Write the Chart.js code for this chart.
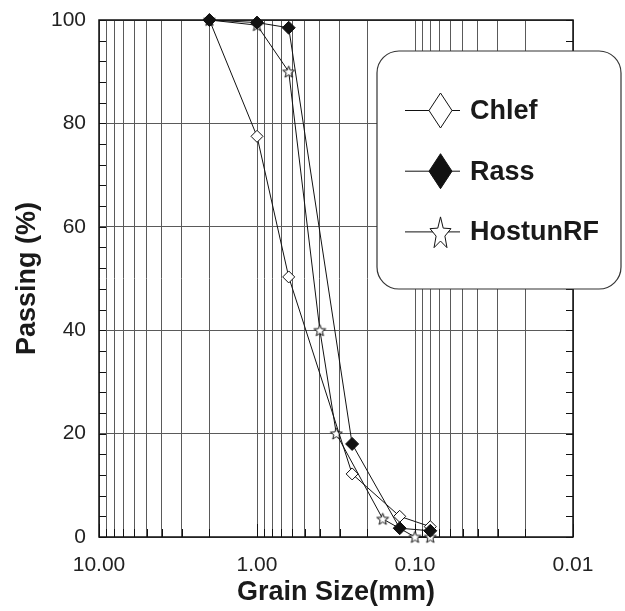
<!DOCTYPE html>
<html>
<head>
<meta charset="utf-8">
<script src="https://cdn.jsdelivr.net/npm/chart.js@4.4.0/dist/chart.umd.min.js"></script>
<style>
  html, body { margin: 0; padding: 0; background: #fff; }
</style>
</head>
<body>
<canvas id="grading" width="625" height="611"></canvas>
<script>
// grain size (mm) / passing (%)
const sizesChlef = [2, 1, 0.63, 0.25, 0.125, 0.08];
const passingChlef = [100, 77.5, 50.3, 12.2, 4, 2];
const sizesRass = [2, 1, 0.63, 0.25, 0.125, 0.08];
const passingRass = [100, 99.5, 98.5, 18, 1.7, 1.2];
const sizesHostun = [2, 1, 0.63, 0.4, 0.315, 0.16, 0.1, 0.08];
const passingHostun = [100, 99, 90, 40, 20, 3.5, 0, 0];

const legendLabels = ['Chlef', 'Rass', 'HostunRF'];
const xMajor = [10, 1, 0.1, 0.01];
const xTickLabels = ['10.00', '1.00', '0.10', '0.01'];
const yTickLabels = [0, 20, 40, 60, 80, 100];

// log grid: 1..9 in every decade
const xGrid = [];
for (let e = -2; e < 1; e++) {
  for (let k = 1; k < 10; k++) xGrid.push(+(k * Math.pow(10, e)).toPrecision(3));
}
xGrid.push(10);
const yGrid = [];
for (let v = 0; v <= 100; v += 4) yGrid.push(v);

const FONT = "'Liberation Sans', Arial, sans-serif";
Chart.defaults.font.family = FONT;
Chart.defaults.color = '#222';

function starPath(ctx, cx, cy, rx, ry) {
  ctx.beginPath();
  for (let i = 0; i < 10; i++) {
    const r = i % 2 ? 0.42 : 1;
    const a = -Math.PI / 2 + i * Math.PI / 5;
    ctx.lineTo(cx + Math.cos(a) * rx * r, cy + Math.sin(a) * ry * r);
  }
  ctx.closePath();
}

function diamondPath(ctx, cx, cy, rx, ry) {
  ctx.beginPath();
  ctx.moveTo(cx, cy - ry);
  ctx.lineTo(cx + rx, cy);
  ctx.lineTo(cx, cy + ry);
  ctx.lineTo(cx - rx, cy);
  ctx.closePath();
}

// open star marker for HostunRF
const starImg = document.createElement('canvas');
starImg.width = 15;
starImg.height = 15;
(function () {
  const c = starImg.getContext('2d');
  starPath(c, 7.5, 8, 6.2, 6.2);
  c.fillStyle = '#fff';
  c.fill();
  c.strokeStyle = '#111';
  c.lineWidth = 1;
  c.stroke();
})();

const toXY = (xs, ys) => xs.map((x, i) => ({ x: x, y: ys[i] }));

const frameAndTicks = {
  id: 'frameAndTicks',
  beforeDatasetsDraw(chart) {
    const { ctx, chartArea: a, scales } = chart;
    ctx.save();
    ctx.strokeStyle = '#111';
    ctx.lineWidth = 1;
    ctx.beginPath();
    yGrid.forEach(v => {
      const y = Math.round(scales.y.getPixelForValue(v)) + 0.5;
      ctx.moveTo(a.left, y);
      ctx.lineTo(a.left + 7, y);
      ctx.moveTo(a.right, y);
      ctx.lineTo(a.right - 7, y);
    });
    xGrid.forEach(v => {
      const x = Math.round(scales.x.getPixelForValue(v)) + 0.5;
      const len = xMajor.includes(v) ? 13 : 8;
      ctx.moveTo(x, a.bottom);
      ctx.lineTo(x, a.bottom - len);
    });
    ctx.stroke();
    ctx.lineWidth = 1.5;
    ctx.strokeRect(a.left, a.top, a.right - a.left, a.bottom - a.top);
    ctx.restore();
  }
};

const boxLegend = {
  id: 'boxLegend',
  afterDraw(chart) {
    const ctx = chart.ctx;
    const bx = 377, by = 51, bw = 244, bh = 238, r = 22;
    ctx.save();
    ctx.beginPath();
    ctx.moveTo(bx + r, by);
    ctx.arcTo(bx + bw, by, bx + bw, by + bh, r);
    ctx.arcTo(bx + bw, by + bh, bx, by + bh, r);
    ctx.arcTo(bx, by + bh, bx, by, r);
    ctx.arcTo(bx, by, bx + bw, by, r);
    ctx.closePath();
    ctx.fillStyle = '#fff';
    ctx.fill();
    ctx.strokeStyle = '#333';
    ctx.lineWidth = 1.2;
    ctx.stroke();

    legendLabels.forEach((label, i) => {
      const y = 110.5 + i * 60.7;
      ctx.strokeStyle = '#111';
      ctx.lineWidth = 1;
      ctx.beginPath();
      ctx.moveTo(405, y);
      ctx.lineTo(460, y);
      ctx.stroke();
      if (i === 2) {
        starPath(ctx, 440.5, y + 2, 11, 17);
      } else {
        diamondPath(ctx, 440.5, y, 11.5, 17.5);
      }
      ctx.fillStyle = i === 1 ? '#111' : '#fff';
      ctx.fill();
      ctx.stroke();

      ctx.fillStyle = '#1a1a1a';
      ctx.font = 'bold 27px ' + FONT;
      ctx.textBaseline = 'middle';
      ctx.textAlign = 'left';
      ctx.fillText(label, 470, y + 1);
    });
    ctx.restore();
  }
};

new Chart(document.getElementById('grading'), {
  type: 'line',
  data: {
    datasets: [
      {
        label: legendLabels[0],
        data: toXY(sizesChlef, passingChlef),
        order: 1,
        pointStyle: 'rectRot',
        pointRadius: 6,
        backgroundColor: '#fff',
        pointBackgroundColor: '#fff'
      },
      {
        label: legendLabels[1],
        data: toXY(sizesRass, passingRass),
        order: 0,
        pointStyle: 'rectRot',
        pointRadius: 6.5,
        backgroundColor: '#111',
        pointBackgroundColor: '#111'
      },
      {
        label: legendLabels[2],
        data: toXY(sizesHostun, passingHostun),
        order: 2,
        pointStyle: starImg,
        pointRadius: 7,
        backgroundColor: '#fff'
      }
    ].map(d => Object.assign({
      borderColor: '#111',
      pointBorderColor: '#111',
      borderWidth: 1,
      pointBorderWidth: 1,
      tension: 0,
      fill: false,
      clip: false
    }, d))
  },
  options: {
    responsive: false,
    animation: false,
    layout: { padding: { top: 20, right: 52, left: 0, bottom: 0 } },
    plugins: {
      legend: { display: false },
      tooltip: { enabled: false }
    },
    scales: {
      x: {
        type: 'logarithmic',
        reverse: true,
        min: 0.01,
        max: 10,
        afterBuildTicks: axis => { axis.ticks = xGrid.map(v => ({ value: v })); },
        afterFit: axis => { axis.height = 74; },
        border: { display: false },
        grid: { color: '#5a5a5a', lineWidth: 1, drawTicks: false },
        ticks: {
          autoSkip: false,
          maxRotation: 0,
          minRotation: 0,
          padding: 16,
          font: { size: 21 },
          callback: value => {
            const i = xMajor.findIndex(m => Math.abs(m - value) / m < 1e-6);
            return i < 0 ? '' : xTickLabels[i];
          }
        },
        title: {
          display: true,
          text: 'Grain Size(mm)',
          color: '#1a1a1a',
          font: { size: 27, weight: 'bold' },
          padding: { top: 0, bottom: 2 }
        }
      },
      y: {
        type: 'linear',
        min: 0,
        max: 100,
        afterBuildTicks: axis => { axis.ticks = yGrid.map(v => ({ value: v })); },
        afterFit: axis => {
          axis.width = 99;
          axis.paddingTop = 0;
          axis.paddingBottom = 0;
        },
        border: { display: false },
        grid: {
          drawTicks: false,
          lineWidth: 1,
          color: c => (c.tick && yTickLabels.includes(c.tick.value)) ? '#5a5a5a' : 'rgba(0,0,0,0)'
        },
        ticks: {
          autoSkip: false,
          padding: 13,
          font: { size: 21 },
          callback: value => yTickLabels.includes(value) ? String(value) : ''
        },
        title: {
          display: true,
          text: 'Passing (%)',
          color: '#1a1a1a',
          font: { size: 27, weight: 'bold' },
          padding: { top: 11, bottom: 0 }
        }
      }
    }
  },
  plugins: [frameAndTicks, boxLegend]
});
</script>
</body>
</html>
